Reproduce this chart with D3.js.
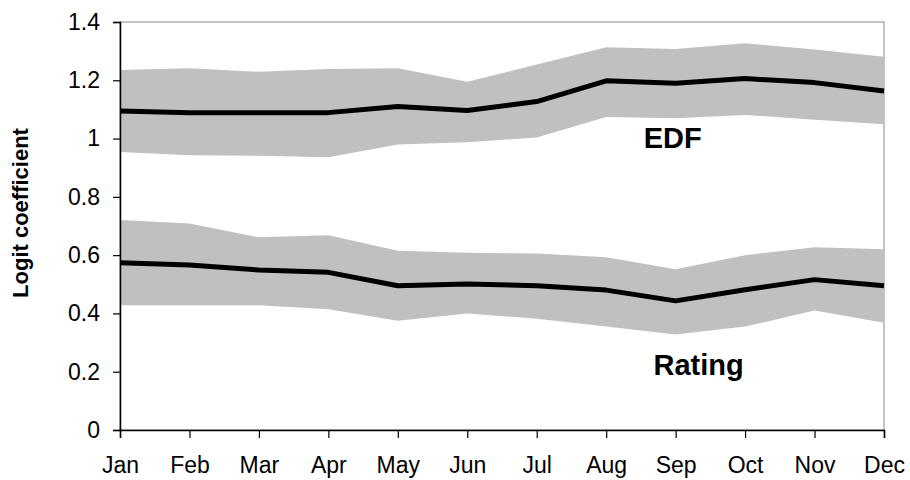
<!DOCTYPE html>
<html>
<head>
<meta charset="utf-8">
<script src="https://cdn.jsdelivr.net/npm/d3@7"></script>
<style>
  body { margin: 0; background: #fff; }
  text { font-family: Arial, "Liberation Sans", sans-serif; }
</style>
</head>
<body>
<svg id="chart"></svg>
<script>
const months = ["Jan", "Feb", "Mar", "Apr", "May", "Jun", "Jul", "Aug", "Sep", "Oct", "Nov", "Dec"]

const edfMid = [1.095, 1.089, 1.089, 1.089, 1.11, 1.096, 1.127, 1.198, 1.19, 1.206, 1.192, 1.163]
const edfHigh = [1.235, 1.241, 1.229, 1.239, 1.241, 1.195, 1.254, 1.313, 1.307, 1.327, 1.306, 1.281]
const edfLow = [0.954, 0.943, 0.941, 0.936, 0.98, 0.987, 1.004, 1.074, 1.07, 1.081, 1.065, 1.049]

const ratingMid = [0.574, 0.566, 0.549, 0.541, 0.495, 0.501, 0.495, 0.48, 0.443, 0.481, 0.516, 0.495]
const ratingHigh = [0.721, 0.709, 0.661, 0.668, 0.615, 0.608, 0.606, 0.593, 0.552, 0.6, 0.627, 0.62]
const ratingLow = [0.428, 0.428, 0.428, 0.414, 0.375, 0.4, 0.382, 0.355, 0.328, 0.355, 0.41, 0.368]

const yTicks = [0, 0.2, 0.4, 0.6, 0.8, 1, 1.2, 1.4]

const dimensions = {
  width: 910,
  height: 480,
  margin: { top: 22, right: 26, bottom: 50, left: 120 },
}

const svg = d3.select("#chart")
  .attr("width", dimensions.width)
  .attr("height", dimensions.height)

const innerW = dimensions.width - dimensions.margin.left - dimensions.margin.right
const innerH = dimensions.height - dimensions.margin.top - dimensions.margin.bottom

const graph = svg.append("g")
  .attr("transform", `translate(${dimensions.margin.left}, ${dimensions.margin.top})`)

// scales
const x = d3.scalePoint().domain(months).range([0, innerW])
const y = d3.scaleLinear().domain([0, 1.4]).range([innerH, 0])

// plot border (top/right grey)
graph.append("rect")
  .attr("width", innerW)
  .attr("height", innerH)
  .attr("fill", "none")
  .attr("stroke", "#888")
  .attr("stroke-width", 1)

const series = [
  { mid: edfMid, high: edfHigh, low: edfLow },
  { mid: ratingMid, high: ratingHigh, low: ratingLow },
]

const area = d3.area()
  .x((d) => x(d.m))
  .y0((d) => y(d.lo))
  .y1((d) => y(d.hi))

const line = d3.line()
  .x((d) => x(d.m))
  .y((d) => y(d.v))

series.forEach((s) => {
  const rows = months.map((m, i) => ({ m, v: s.mid[i], hi: s.high[i], lo: s.low[i] }))
  graph.append("path")
    .datum(rows)
    .attr("d", area)
    .attr("fill", "#c0c0c0")
  graph.append("path")
    .datum(rows)
    .attr("d", line)
    .attr("fill", "none")
    .attr("stroke", "#000")
    .attr("stroke-width", 5)
    .attr("stroke-linejoin", "round")
})

// axes
const yAxis = graph.append("g")
  .call(d3.axisLeft(y).tickValues(yTicks).tickSize(7).tickPadding(13).tickFormat(d3.format("")))
const xAxis = graph.append("g")
  .attr("transform", `translate(0, ${innerH})`)
  .call(d3.axisBottom(x).tickSize(8).tickPadding(19))

;[yAxis, xAxis].forEach((a) => {
  a.select(".domain").attr("stroke", "#000").attr("stroke-width", 1.5)
  a.selectAll(".tick line").attr("stroke", "#000").attr("stroke-width", 1.2)
  a.selectAll("text").attr("font-size", 23).attr("fill", "#000")
    .style("font-family", "Arial, 'Liberation Sans', sans-serif")
})

// y label
svg.append("text")
  .attr("transform", "translate(28, 213) rotate(-90)")
  .attr("text-anchor", "middle")
  .attr("font-size", 22)
  .attr("font-weight", "bold")
  .text("Logit coefficient")

// series labels
graph.append("text")
  .attr("x", x("Sep") - 3)
  .attr("y", y(0.968))
  .attr("text-anchor", "middle")
  .attr("font-size", 29)
  .attr("font-weight", "bold")
  .text("EDF")

graph.append("text")
  .attr("x", x("Sep") + 23)
  .attr("y", y(0.189))
  .attr("text-anchor", "middle")
  .attr("font-size", 29)
  .attr("font-weight", "bold")
  .text("Rating")
</script>
</body>
</html>
